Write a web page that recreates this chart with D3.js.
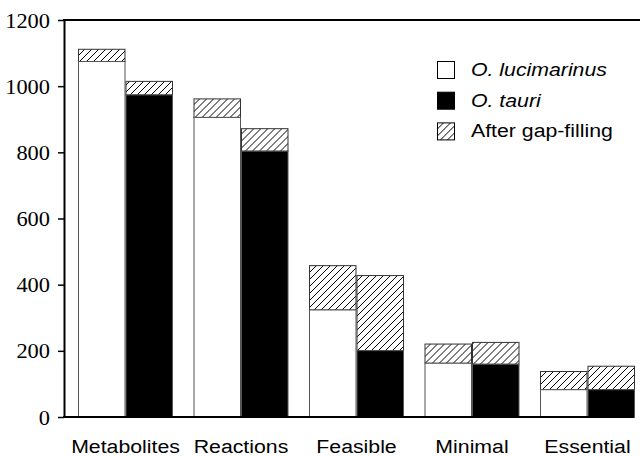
<!DOCTYPE html>
<html>
<head>
<meta charset="utf-8">
<script src="https://cdn.jsdelivr.net/npm/d3@7"></script>
<style>
  html, body { margin: 0; padding: 0; background: #fff; }
  svg { display: block; }
</style>
</head>
<body>
<svg id="chart" width="640" height="456"></svg>
<script>
// Model statistics for the two Ostreococcus reconstructions
const categories = ["Metabolites", "Reactions", "Feasible", "Minimal", "Essential"];
const species = ["O. lucimarinus", "O. tauri"];
// Counts before gap-filling
const lucimarinusBase = [1076, 907, 325, 164, 84];
const tauriBase = [975, 805, 202, 161, 84];
// Counts after gap-filling (bar totals)
const lucimarinusFilled = [1113, 963, 459, 222, 139];
const tauriFilled = [1016, 873, 429, 227, 155];
const yTicks = [0, 200, 400, 600, 800, 1000, 1200];
const legendLabels = ["O. lucimarinus", "O. tauri", "After gap-filling"];

const serif = '"Liberation Serif", "Times New Roman", serif';
const sans = '"Liberation Sans", Arial, sans-serif';

const svg = d3.select("#chart");
const plot = { left: 64, right: 640, top: 20, bottom: 417 };
const stretch = 1.12; // horizontally widened lettering

const defs = svg.append("defs");
const pat = defs.append("pattern")
  .attr("id", "hatch")
  .attr("patternUnits", "userSpaceOnUse")
  .attr("width", 7).attr("height", 7);
pat.append("rect").attr("width", 7).attr("height", 7).attr("fill", "#fff");
pat.append("path")
  .attr("d", "M-1,1 L1,-1 M0,7 L7,0 M6,8 L8,6")
  .attr("stroke", "#000").attr("stroke-width", 1);

const y = d3.scaleLinear().domain([0, 1200]).range([plot.bottom, plot.top]);
const x0 = d3.scaleBand().domain(categories).range([78, 635]).paddingInner(0.1775).paddingOuter(0);
const x1 = d3.scaleBand().domain(species).range([0, x0.bandwidth()]).padding(0);

const rows = categories.map((c, i) => ({
  cat: c,
  bars: [
    { sp: species[0], base: lucimarinusBase[i], total: lucimarinusFilled[i], fill: "#fff" },
    { sp: species[1], base: tauriBase[i], total: tauriFilled[i], fill: "#000" }
  ]
}));

const groups = svg.append("g").selectAll("g").data(rows).join("g")
  .attr("transform", d => `translate(${x0(d.cat)},0)`);

// Gap-filled portion (hatched), drawn from the base count to the total
groups.selectAll("rect.fill").data(d => d.bars).join("rect")
  .attr("class", "fill")
  .attr("x", d => x1(d.sp) + 0.5)
  .attr("width", x1.bandwidth() - 1)
  .attr("y", d => y(d.total) + 0.5)
  .attr("height", d => y(d.base) - y(d.total))
  .attr("fill", "url(#hatch)")
  .attr("stroke", "#333").attr("stroke-width", 1);

// Base counts
groups.selectAll("rect.base").data(d => d.bars).join("rect")
  .attr("class", "base")
  .attr("x", d => x1(d.sp) + 0.5)
  .attr("width", x1.bandwidth() - 1)
  .attr("y", d => y(d.base) + 0.5)
  .attr("height", d => y(0) - y(d.base))
  .attr("fill", d => d.fill)
  .attr("stroke", "#555").attr("stroke-width", 1);

// Y axis
const yAxis = svg.append("g")
  .attr("transform", `translate(${plot.left},0)`)
  .call(d3.axisLeft(y).tickValues(yTicks).tickSize(6).tickSizeOuter(0).tickFormat(d3.format("d")));
yAxis.attr("font-family", null).attr("font-size", null);
yAxis.select(".domain").attr("stroke", "#000").attr("stroke-width", 2);
yAxis.selectAll(".tick line").attr("stroke", "#000").attr("stroke-width", 1.5);
yAxis.selectAll(".tick text")
  .attr("x", null).attr("dy", null)
  .attr("transform", `translate(-14,7) scale(${stretch},1)`)
  .attr("text-anchor", "end")
  .style("font-family", serif)
  .style("font-size", "20px")
  .attr("fill", "#000");

// Top frame line and baseline
svg.append("line")
  .attr("x1", plot.left - 1).attr("x2", plot.right)
  .attr("y1", plot.top).attr("y2", plot.top)
  .attr("stroke", "#000").attr("stroke-width", 2);
svg.append("line")
  .attr("x1", plot.left - 1).attr("x2", 634)
  .attr("y1", plot.bottom).attr("y2", plot.bottom)
  .attr("stroke", "#000").attr("stroke-width", 2);

// Category labels
svg.append("g").selectAll("text").data(categories).join("text")
  .attr("transform", d => `translate(${x0(d) + x0.bandwidth() / 2},453) scale(${stretch},1)`)
  .attr("text-anchor", "middle")
  .style("font-family", sans)
  .style("font-size", "19px")
  .attr("fill", "#000")
  .text(d => d);

// Legend
const legendFills = ["#fff", "#000", "url(#hatch)"];
const legend = svg.append("g").selectAll("g").data(legendLabels).join("g")
  .attr("transform", (d, i) => `translate(437,${61 + i * 30.7})`);
legend.append("rect")
  .attr("x", 0.5).attr("y", 0.5)
  .attr("width", 17).attr("height", 17)
  .attr("fill", (d, i) => legendFills[i])
  .attr("stroke", "#000").attr("stroke-width", 1);
legend.append("text")
  .attr("transform", `translate(34,15) scale(${stretch},1)`)
  .style("font-family", sans)
  .style("font-size", "19px")
  .style("font-style", (d, i) => i < 2 ? "italic" : "normal")
  .attr("fill", "#000")
  .text(d => d);
</script>
</body>
</html>
